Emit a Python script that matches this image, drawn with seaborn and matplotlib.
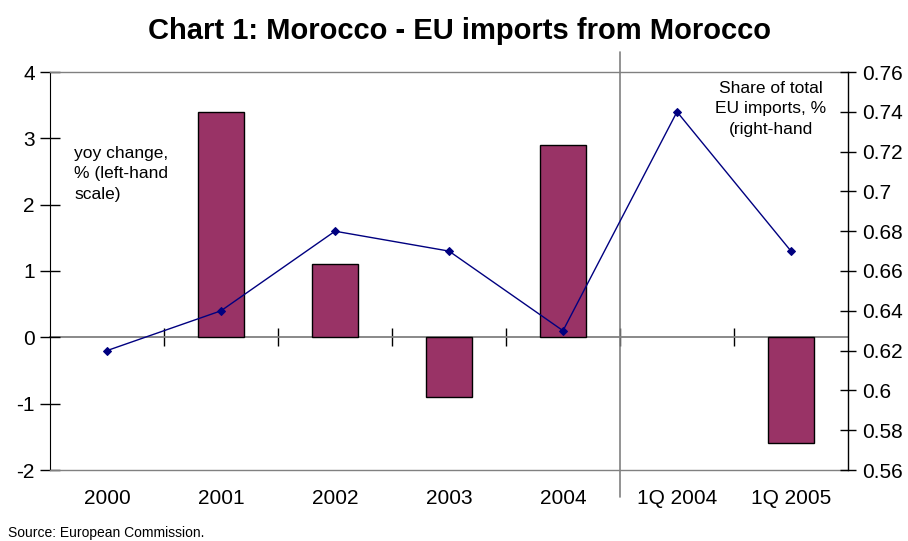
import numpy as np
import pandas as pd
import matplotlib
matplotlib.use("Agg")
import matplotlib.pyplot as plt
import seaborn as sns

# Chart data
periods = ["2000", "2001", "2002", "2003", "2004", "1Q 2004", "1Q 2005"]
yoy_change = [np.nan, 3.4, 1.1, -0.9, 2.9, np.nan, -1.6]          # left-hand scale, %
import_share = [0.62, 0.64, 0.68, 0.67, 0.63, 0.74, 0.67]          # right-hand scale, %
left_ticks = [-2, -1, 0, 1, 2, 3, 4]
right_ticks = [0.56, 0.58, 0.60, 0.62, 0.64, 0.66, 0.68, 0.70, 0.72, 0.74, 0.76]
right_tick_labels = ["0.56", "0.58", "0.6", "0.62", "0.64", "0.66", "0.68",
                     "0.7", "0.72", "0.74", "0.76"]

df = pd.DataFrame({"period": periods, "yoy": yoy_change, "share": import_share})

sns.set_style("white")
plt.rcParams["font.family"] = ["Liberation Sans", "DejaVu Sans"]
plt.rcParams["text.color"] = "black"
plt.rcParams["axes.labelcolor"] = "black"
plt.rcParams["xtick.color"] = "black"
plt.rcParams["ytick.color"] = "black"

BAR = "#993366"
LINE = "#000080"
GREY = "#808080"

W, H = 908, 541
fig = plt.figure(figsize=(W / 100, H / 100), dpi=100)
ax = fig.add_axes([50 / W, 71 / H, 798 / W, 398 / H])

sns.barplot(data=df, x="period", y="yoy", order=periods, ax=ax, color=BAR,
            saturation=1, width=0.4, edgecolor="black", linewidth=1)
ax.set_ylim(-2, 4)
ax.set_yticks(left_ticks)
ax.set_yticklabels([str(t) for t in left_ticks])
ax.set_xlim(-0.5, len(periods) - 0.5)
ax.set_xlabel("")
ax.set_ylabel("")
ax.tick_params(axis="y", direction="inout", length=14, width=1, color="black",
               labelcolor="black", labelsize=15, pad=4, left=True)
ax.tick_params(axis="x", length=0, labelsize=15, pad=14, labelcolor="black")

for side in ("top", "bottom"):
    ax.spines[side].set_color(GREY)
    ax.spines[side].set_linewidth(1)
ax.spines["left"].set_color("black")
ax.spines["right"].set_visible(False)

# category axis crossing at zero, with ticks between categories
zero_pos = (0 - (-2)) / 6
sec = ax.secondary_xaxis(zero_pos)
sec.set_xticks(np.arange(0.5, len(periods) - 1, 1.0))
sec.set_xticklabels([])
sec.tick_params(direction="inout", length=13, width=1, color="black")
sec.spines["bottom"].set_color(GREY)
sec.spines["bottom"].set_linewidth(1.3)

# separator between annual and quarterly data
ax.axvline(4.5, ymin=-0.068, ymax=1.05, color=GREY, linewidth=1.2, clip_on=False)

ax2 = ax.twinx()
sns.pointplot(data=df, x="period", y="share", order=periods, ax=ax2, color=LINE,
              markers="D", markersize=4, linewidth=1)
ax2.set_ylim(0.56, 0.76)
ax2.set_yticks(right_ticks)
ax2.set_yticklabels(right_tick_labels)
ax2.set_xlim(-0.5, len(periods) - 0.5)
ax2.set_ylabel("")
ax2.set_xlabel("")
ax2.tick_params(axis="y", direction="inout", length=12, width=1, color="black",
                labelcolor="black", labelsize=15, pad=4, right=True)
for side in ("top", "bottom", "left"):
    ax2.spines[side].set_visible(False)
ax2.spines["right"].set_color("black")
ax2.spines["right"].set_linewidth(1)

fig.text(459 / W, 1 - 31 / H, "Chart 1: Morocco - EU imports from Morocco",
         ha="center", va="center", fontsize=21, fontweight="bold", color="black")
fig.text(74 / W, 1 - 146 / H, "yoy change,\n% (left-hand\nscale)",
         ha="left", va="top", fontsize=12.5, linespacing=1.45, color="black")
fig.text(771 / W, 1 - 81 / H, "Share of total\nEU imports, %\n(right-hand",
         ha="center", va="top", fontsize=12.5, linespacing=1.45, color="black")
fig.text(8 / W, 1 - 537 / H, "Source: European Commission.",
         ha="left", va="baseline", fontsize=10, color="black")

fig.savefig("out.png", dpi=100)
